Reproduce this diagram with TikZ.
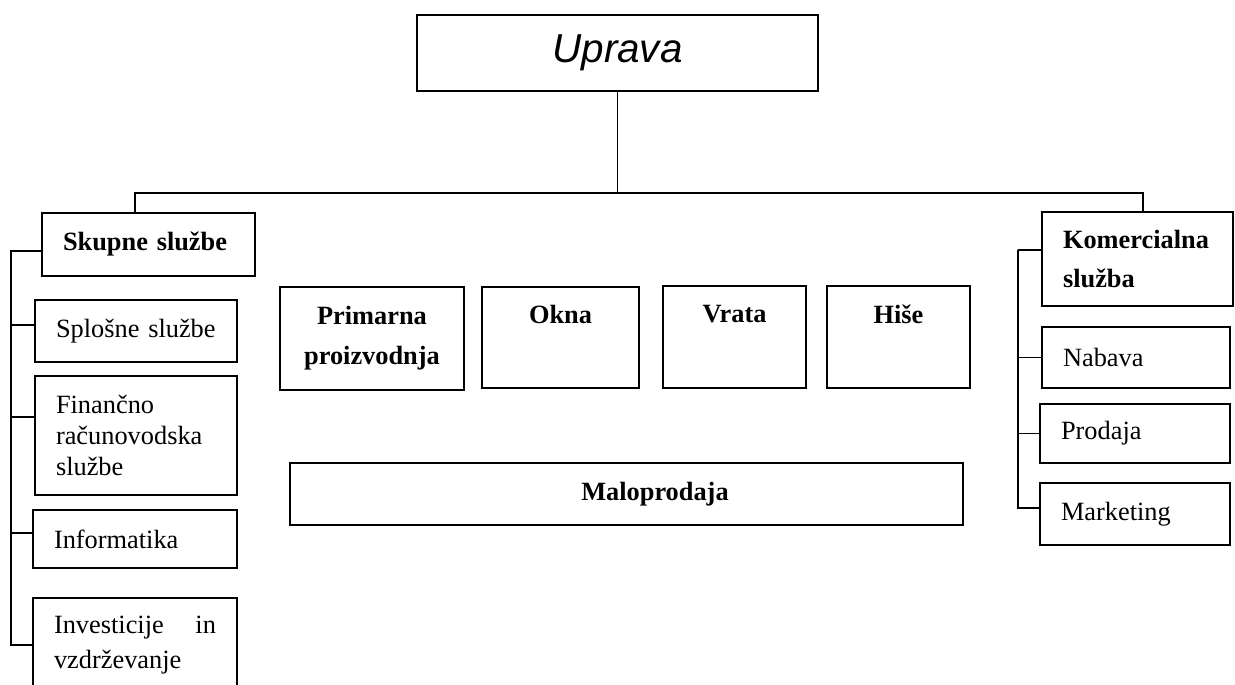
\documentclass[tikz,border=0pt]{standalone}
\usepackage{fontspec}
\setmainfont{Liberation Serif}
\setsansfont{Liberation Sans}

\begin{document}
\begin{tikzpicture}[x=0.02cm, y=-0.02cm, line width=1.1pt,
    side_box/.style={draw, rectangle, inner xsep=0.42cm, inner ysep=0pt, align=left, font=\fontsize{15}{17.5}\selectfont},
    mid_box/.style={draw, rectangle, inner sep=0pt, align=center, font=\bfseries\fontsize{15}{22.7}\selectfont},
    link/.style={line width=0.9pt}]

    \clip (0,0) rectangle (1235,684);
    \fill[white] (0,0) rectangle (1235,684);

    \node[draw, minimum width=8.02cm, minimum height=1.52cm, font=\sffamily\itshape\fontsize{23}{27}\selectfont] (uprava) at (617.5,53) {Uprava};

    % skupne sluzbe
    \node[side_box, text width=3.42cm, minimum height=1.26cm, font=\bfseries\fontsize{15}{21}\selectfont] (skupne) at (148.5,244.5) {Skupne službe};
    \node[side_box, text width=3.20cm, minimum height=1.24cm] (splosne) at (136,331) {Splošne službe};
    \node[side_box, text width=3.20cm, minimum height=2.38cm] (financno) at (136,435.5) {Finančno\\računovodska\\službe};
    \node[side_box, text width=3.24cm, minimum height=1.16cm] (informatika) at (135,539) {Informatika};
    \node[side_box, text width=3.24cm, minimum height=1.88cm, font=\fontsize{15}{20.4}\selectfont] (investicije) at (135,645) {Investicije\hfill in\\vzdrževanje};

    % proizvodnja
    \node[mid_box, minimum width=3.68cm, minimum height=2.06cm] (primarna) at (372,338.5) {Primarna\\proizvodnja};
    \node[mid_box, minimum width=3.14cm, minimum height=2.02cm] (okna) at (560.5,337.5) {Okna\\\vphantom{pj}};
    \node[mid_box, minimum width=2.86cm, minimum height=2.04cm] (vrata) at (734.5,337) {Vrata\\\vphantom{pj}};
    \node[mid_box, minimum width=2.86cm, minimum height=2.04cm] (hise) at (898.5,337) {Hiše\\\vphantom{pj}};
    \node[mid_box, minimum width=13.46cm, minimum height=1.24cm] (maloprodaja) at (626.5,494) {\hspace*{1.14cm}Maloprodaja};

    % komercialna sluzba
    \node[side_box, text width=2.98cm, minimum height=1.88cm, font=\bfseries\fontsize{15}{22}\selectfont] (komercialna) at (1137.5,259) {Komercialna\\služba};
    \node[side_box, text width=2.92cm, minimum height=1.22cm] (nabava) at (1136,357.5) {Nabava};
    \node[side_box, text width=2.96cm, minimum height=1.18cm] (prodaja) at (1135,433.5) {Prodaja};
    \node[side_box, text width=2.96cm, minimum height=1.24cm] (marketing) at (1135,514) {Marketing};

    \coordinate (bar_left) at (135,193);
    \coordinate (bar_right) at (1143,193);
    \coordinate (rail_left) at (11,251);
    \coordinate (rail_right) at (1018,250);

    \draw[link] (uprava.south) -- (uprava.south |- bar_left);
    \draw[link] (skupne.north -| bar_left) -- (bar_left) -- (bar_right) -- (bar_right |- komercialna.north);

    \foreach \unit/\dy in {skupne/-0.13, splosne/0.12, financno/0.37, informatika/0.12, investicije/0}
        \draw[link] ([yshift=\dy cm]\unit.west) -| (rail_left);
    \foreach \unit/\dy in {komercialna/0.18, nabava/0, prodaja/0, marketing/0.12}
        \draw[link] ([yshift=\dy cm]\unit.west) -| (rail_right);
\end{tikzpicture}
\end{document}
